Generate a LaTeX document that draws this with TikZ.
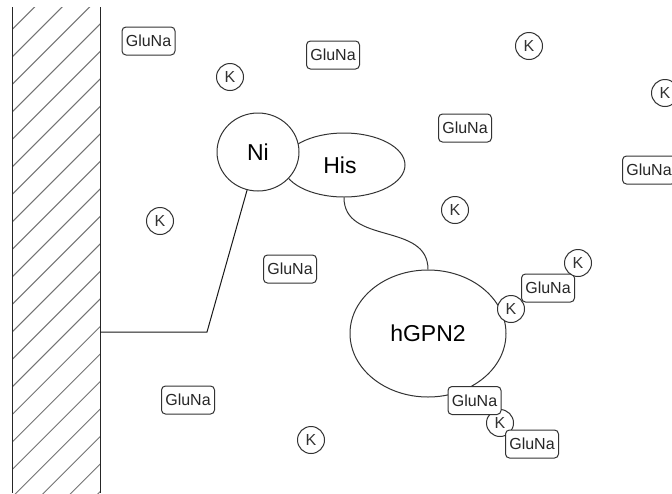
\documentclass[tikz,border=0pt]{standalone}
\usepackage{fontspec}
\setmainfont{Liberation Sans}
\usetikzlibrary{shapes.geometric, positioning}

\tikzset{
  kion/.style={circle, draw=black!80, fill=white, inner sep=0pt, minimum size=27pt,
    font=\fontsize{16}{18}\selectfont, text=black!80},
  gluna/.style={rectangle, rounded corners=4pt, draw=black!80, fill=white, inner sep=0pt,
    minimum width=53pt, minimum height=28pt, font=\fontsize{16}{18}\selectfont, text=black!85},
  blob/.style={ellipse, draw=black!80, fill=white, inner sep=0pt,
    font=\fontsize{23}{27}\selectfont},
  hatch/.style={draw=black!55}
}

\begin{document}
\begin{tikzpicture}[x=1pt, y=-1pt, line width=1pt]
    \fill[white] (0,0) rectangle (672,493);
    \clip (0,0) rectangle (672,493);

    % wall
    \begin{scope}
        \clip (12.7,7) rectangle (100,493);
        \foreach \k in {0,...,20}
            \draw[hatch] (0, 41.7+27.5*\k) -- ++(140,-140);
    \end{scope}
    \draw[black!85] (12.7,7) -- (12.7,493);
    \draw[black!85] (100,7) -- (100,493);

    % tethered protein
    \node[blob, minimum width=122pt, minimum height=64pt] (his) at (344,165) {\hspace*{-8pt}His};
    \node[blob, minimum width=82pt, minimum height=78pt] (ni) at (258,152) {Ni};
    \node[blob, minimum width=156pt, minimum height=127pt] (hgpn) at (428,333.5) {hGPN2};

    \coordinate (wallpt) at (100,332);
    \coordinate (kink) at (207,332);
    \draw[black!90] (ni.-106) -- (kink) -- (wallpt);
    \draw[black!80] (his.south) .. controls +(0,48) and +(0,-48) .. (hgpn.north);

    % ions near hGPN2
    \node[kion] (k8) at (500,423) {K};
    \node[gluna] (g8) at (474.5,400.5) {GluNa};
    \node[gluna] (g9) at (532,444) {GluNa};
    \node[gluna] (g6) at (548,288) {GluNa};
    \node[kion] (k6) at (511,309) {K};
    \node[kion] (k7) at (578,263) {K};

    % free ions
    \node[gluna] (g1) at (148.5,41) {GluNa};
    \node[gluna] (g2) at (333,55) {GluNa};
    \node[gluna] (g3) at (465,128) {GluNa};
    \node[gluna] (g4) at (649,170) {GluNa};
    \node[gluna] (g5) at (290,269) {GluNa};
    \node[gluna] (g7) at (188,400) {GluNa};
    \node[kion] (k1) at (230,77) {K};
    \node[kion] (k2) at (529,46) {K};
    \node[kion] (k3) at (665,93) {K};
    \node[kion] (k4) at (455,210) {K};
    \node[kion] (k5) at (160,221) {K};
    \node[kion] (k9) at (311,440) {K};
\end{tikzpicture}
\end{document}
